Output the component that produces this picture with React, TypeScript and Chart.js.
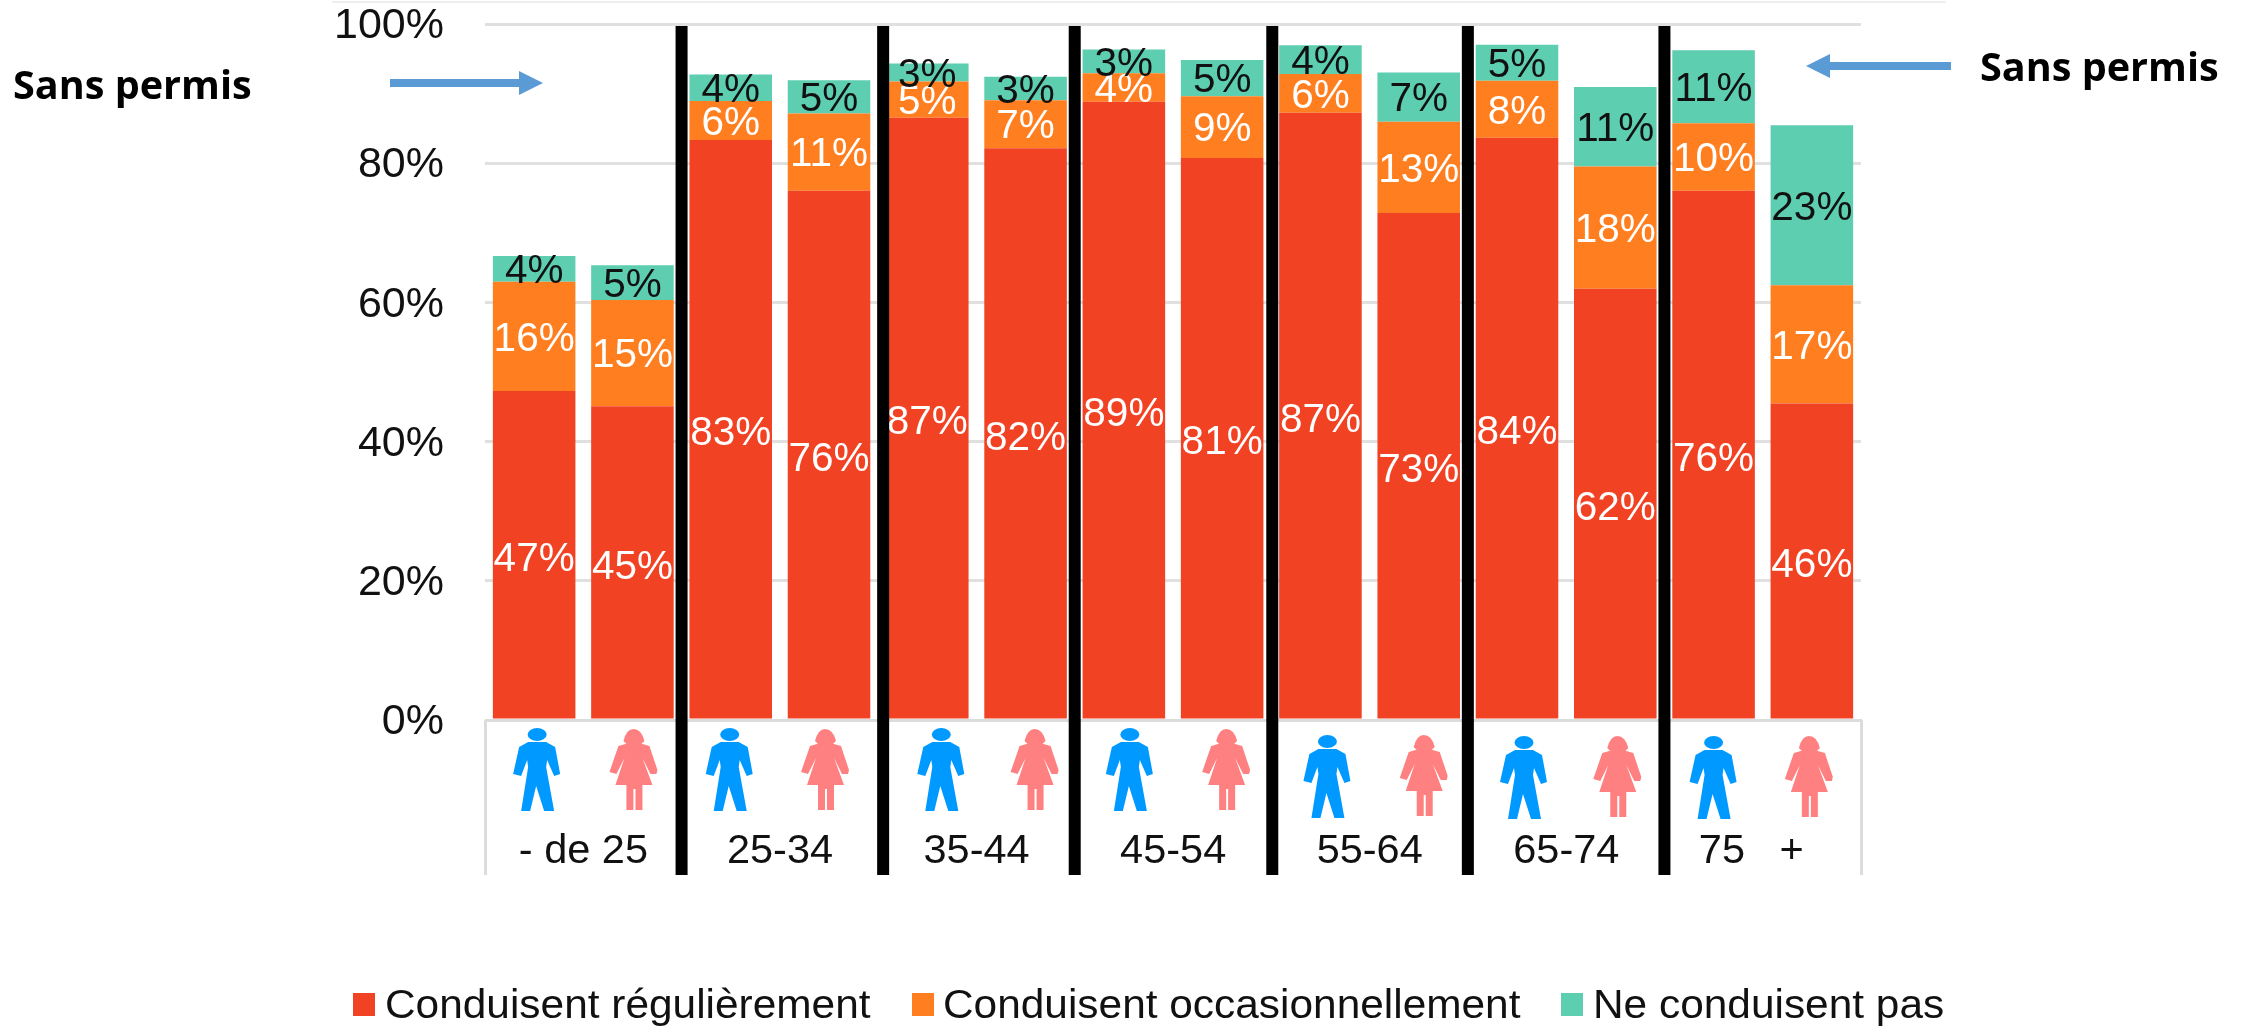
import React, { useEffect, useRef } from "react";
import { Chart, registerables } from "chart.js";

Chart.register(...registerables);

const FONT = '"Liberation Sans", Arial, sans-serif';

const bars = ["H", "F", "H", "F", "H", "F", "H", "F", "H", "F", "H", "F", "H", "F"];
const ageGroups = ["- de 25", "25-34", "35-44", "45-54", "55-64", "65-74", "75   +  "];
const regulier = [47.3, 45.1, 83.4, 76.1, 86.6, 82.2, 88.9, 80.8, 87.3, 72.9, 83.7, 62.0, 76.1, 45.5];
const occasionnel = [15.7, 15.3, 5.6, 11.1, 5.2, 6.9, 4.1, 8.9, 5.6, 13.1, 8.2, 17.6, 9.7, 17.0];
const neConduisentPas = [3.7, 5.0, 3.8, 4.8, 2.6, 3.4, 3.4, 5.2, 4.1, 7.1, 5.2, 11.4, 10.5, 23.0];
const yTicks = [0, 20, 40, 60, 80, 100];

const RED = "#F14324";
const ORANGE = "#FF7F20";
const GREEN = "#5DCEB0";
const BLUE = "#0099FF";
const PINK = "#FF8080";
const ARROW = "#5B9BD5";

const iconDx = [3, 1, -1, -4, 14, 9, 6, 4, 7, 5, 7, 2, 0, -3];
const iconTop = [728, 729, 728, 729, 728, 729, 728, 729, 735, 735, 736, 736, 736, 736];
const separatorDx = [0, 5, 0, 1, 0, 0];
const legendBoxX = [353, 912, 1561];
const legendTextX = [385, 943, 1593];
const labelDy = [5, 3, 3];

const manBody = [
  [-9, 14], [9, 14], [18, 19], [23, 46], [17, 48], [10, 32], [9, 39], [17, 83],
  [7, 83], [-1, 58], [-7, 83], [-16, 83], [-9, 39], [-10, 32], [-16, 48], [-24, 46], [-18, 19],
];
const womanBody = [
  [-8, 15], [9, 15], [16, 17], [24, 41], [23, 45], [17, 45], [9, 29], [19, 56], [9, 56],
  [9, 81], [2, 81], [2, 60], [0, 60], [0, 81], [-7, 81], [-7, 56], [-18, 56], [-9, 29],
  [-17, 45], [-24, 43], [-15, 17],
];

function poly(ctx: CanvasRenderingContext2D, pts: number[][], x: number, y: number) {
  ctx.beginPath();
  pts.forEach(([a, b], i) => (i ? ctx.lineTo(x + a, y + b) : ctx.moveTo(x + a, y + b)));
  ctx.closePath();
  ctx.fill();
}

function drawMan(ctx: CanvasRenderingContext2D, x: number, y: number) {
  ctx.fillStyle = BLUE;
  ctx.beginPath();
  ctx.ellipse(x, y + 6.5, 9.5, 6.5, 0, 0, Math.PI * 2);
  ctx.fill();
  poly(ctx, manBody, x, y);
}

function drawWoman(ctx: CanvasRenderingContext2D, x: number, y: number) {
  ctx.fillStyle = PINK;
  ctx.beginPath();
  ctx.moveTo(x - 10, y + 12);
  ctx.quadraticCurveTo(x - 7, y, x, y);
  ctx.quadraticCurveTo(x + 8, y, x + 11, y + 12);
  ctx.lineTo(x + 8, y + 15);
  ctx.lineTo(x - 7, y + 15);
  ctx.closePath();
  ctx.fill();
  poly(ctx, womanBody, x, y);
}

function arrow(ctx: CanvasRenderingContext2D, tail: number, base: number, tip: number, y: number) {
  ctx.fillStyle = ARROW;
  ctx.fillRect(Math.min(tail, base), y - 4, Math.abs(base - tail), 8);
  ctx.beginPath();
  ctx.moveTo(base, y - 12);
  ctx.lineTo(tip, y);
  ctx.lineTo(base, y + 12);
  ctx.closePath();
  ctx.fill();
}

const decorations = {
  id: "decorations",
  afterDatasetsDraw(chart: any) {
    const { ctx } = chart;
    ctx.save();
    ctx.textAlign = "center";
    ctx.textBaseline = "middle";
    ctx.font = `40.5px ${FONT}`;
    chart.data.datasets.forEach((ds: any, d: number) => {
      ctx.fillStyle = d === 2 ? "#111111" : "#FFFFFF";
      chart.getDatasetMeta(d).data.forEach((el: any, i: number) => {
        ctx.fillText(`${Math.round(ds.data[i])}%`, el.x, (el.y + el.base) / 2 + labelDy[d]);
      });
    });
    ctx.restore();
  },
  afterDraw(chart: any) {
    const { ctx, chartArea: a, scales } = chart;
    const x = scales.x;
    const frameBottom = 875;
    ctx.save();
    ctx.fillStyle = "#EEEEEE";
    ctx.fillRect(332, 1, 1614, 2);
    ctx.fillStyle = "#DCDCDC";
    ctx.fillRect(a.left, a.bottom - 1, a.right - a.left + 1, 3);
    ctx.fillRect(a.left - 1, a.bottom, 3, frameBottom - a.bottom);
    ctx.fillRect(a.right - 1, a.bottom, 3, frameBottom - a.bottom);

    bars.forEach((b, i) => {
      const cx = x.getPixelForValue(i) + iconDx[i];
      if (b === "H") drawMan(ctx, cx, iconTop[i]);
      else drawWoman(ctx, cx, iconTop[i]);
    });

    ctx.fillStyle = "#000000";
    separatorDx.forEach((dx, k) => {
      const i = (k + 1) * 2;
      const sx = (x.getPixelForValue(i - 1) + x.getPixelForValue(i)) / 2 + dx;
      ctx.fillRect(sx - 6, 26, 12, frameBottom - 26);
    });

    arrow(ctx, 390, 519, 543, 83);
    arrow(ctx, 1951, 1830, 1806, 66);

    ctx.fillStyle = "#000000";
    ctx.font = `bold 39.6px "Open Sans", sans-serif`;
    ctx.textAlign = "left";
    ctx.textBaseline = "alphabetic";
    ctx.fillText("Sans permis", 13, 99);
    ctx.fillText("Sans permis", 1980, 81);

    ctx.textBaseline = "middle";
    chart.data.datasets.forEach((ds: any, d: number) => {
      ctx.fillStyle = ds.backgroundColor;
      ctx.fillRect(legendBoxX[d], 993, 22, 23);
      ctx.fillStyle = "#111111";
      ctx.save();
      ctx.translate(legendTextX[d], 1007);
      ctx.scale(1.06, 1);
      ctx.font = `40px ${FONT}`;
      ctx.fillText(ds.label, 0, 0);
      ctx.restore();
    });
    ctx.restore();
  },
};

export default function App() {
  const ref = useRef<HTMLCanvasElement>(null);
  useEffect(() => {
    const common = { barPercentage: 0.84, categoryPercentage: 1, stack: "s" };
    const chart = new Chart(ref.current as HTMLCanvasElement, {
      type: "bar",
      data: {
        labels: bars,
        datasets: [
          { label: "Conduisent régulièrement", data: regulier, backgroundColor: RED, ...common },
          { label: "Conduisent occasionnellement", data: occasionnel, backgroundColor: ORANGE, ...common },
          { label: "Ne conduisent pas", data: neConduisentPas, backgroundColor: GREEN, ...common },
        ],
      },
      plugins: [decorations],
      options: {
        responsive: false,
        animation: false,
        layout: { padding: { left: 0, right: 383, top: 24.5, bottom: 153 } },
        plugins: { legend: { display: false }, tooltip: { enabled: false }, title: { display: false } },
        scales: {
          x: {
            stacked: true,
            afterFit: (s: any) => { s.height = 155; s.paddingLeft = 0; s.paddingRight = 0; },
            grid: { display: false },
            border: { display: false },
            ticks: {
              autoSkip: false,
              maxRotation: 0,
              minRotation: 0,
              labelOffset: -49,
              padding: 99,
              color: "#111111",
              font: { family: FONT, size: 41.5 },
              callback: (_v: any, i: number) => (i % 2 === 1 ? ageGroups[(i - 1) / 2] : ""),
            },
          },
          y: {
            stacked: true,
            min: yTicks[0],
            max: yTicks[yTicks.length - 1],
            afterFit: (s: any) => { s.width = 485; s.paddingTop = 0; s.paddingBottom = 0; },
            grid: { color: "#E0E0E0", lineWidth: 3, drawTicks: false },
            border: { display: false },
            ticks: {
              stepSize: 20,
              padding: 41,
              labelOffset: 2,
              color: "#111111",
              font: { family: FONT, size: 43 },
              callback: (v: any) => `${v}%`,
            },
          },
        },
      },
    });
    return () => chart.destroy();
  }, []);
  return <canvas ref={ref} width={2244} height={1028} style={{ position: "absolute", left: 0, top: 0, width: 2244, height: 1028 }} />;
}
